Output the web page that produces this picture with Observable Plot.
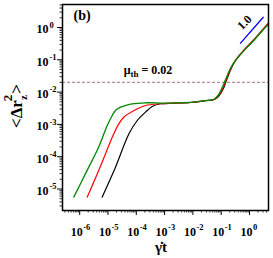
<!DOCTYPE html>
<html>
<head>
<meta charset="utf-8">
<script src="https://cdn.jsdelivr.net/npm/d3@7"></script>
<script src="https://cdn.jsdelivr.net/npm/@observablehq/plot@0.6"></script>
<style>
  body { margin: 0; background: #fff; }
</style>
</head>
<body>
<div id="chart"></div>
<script>
// ---- tick labels ----
const xMajor = [1e-6, 1e-5, 1e-4, 1e-3, 1e-2, 1e-1, 1];
const xExp = ["-6", "-5", "-4", "-3", "-2", "-1", "0"];
const yMajor = [1e-5, 1e-4, 1e-3, 1e-2, 1e-1, 1];
const yExp = ["-5", "-4", "-3", "-2", "-1", "0"];

// ---- series (γ̇t, <Δr_z^2>) ----
const tBlack = [6.2e-6, 1.84e-5, 5.5e-5, 1.08e-4, 2.11e-4, 3.65e-4, 7.2e-4, 2.06e-3, 8.2e-3, 3.2e-2, 5.35e-2, 8.0e-2, 0.116, 0.15, 0.22, 0.32, 0.63, 1.38, 3.2, 4.69];
const msdBlack = [5.6e-6, 4.73e-5, 5.1e-4, 1.32e-3, 2.39e-3, 3.58e-3, 4.35e-3, 4.53e-3, 4.76e-3, 5.5e-3, 5.8e-3, 7.3e-3, 1.22e-2, 2.2e-2, 5.1e-2, 9.5e-2, 0.194, 0.396, 0.91, 1.30];

const tRed = [1.84e-6, 4.7e-6, 1.6e-5, 2.41e-5, 3.61e-5, 9.4e-5, 2.11e-4, 7.2e-4, 2.06e-3, 8.2e-3, 3.2e-2, 5.35e-2, 8.0e-2, 0.11, 0.145, 0.215, 0.32, 0.63, 1.38, 3.2, 4.69];
const msdRed = [5.6e-6, 3.74e-5, 5.1e-4, 1.04e-3, 1.67e-3, 2.83e-3, 3.85e-3, 4.35e-3, 4.53e-3, 4.76e-3, 5.5e-3, 5.8e-3, 7.6e-3, 1.24e-2, 2.25e-2, 5.2e-2, 9.6e-2, 0.2, 0.41, 0.95, 1.38];

const tGreen = [6.2e-7, 1.6e-6, 4.7e-6, 9.4e-6, 1.41e-5, 1.84e-5, 2.77e-5, 4.15e-5, 7.16e-5, 2.11e-4, 1e-3, 8.2e-3, 3.2e-2, 5.35e-2, 7.8e-2, 0.105, 0.14, 0.21, 0.32, 0.63, 1.38, 3.2, 4.69];
const msdGreen = [5.6e-6, 3.0e-5, 2.0e-4, 9.2e-4, 1.89e-3, 2.69e-3, 3.41e-3, 3.85e-3, 4.34e-3, 4.67e-3, 4.55e-3, 4.8e-3, 5.5e-3, 5.9e-3, 8.0e-3, 1.3e-2, 2.35e-2, 5.4e-2, 9.5e-2, 0.19, 0.39, 0.9, 1.28];

// slope-1 guide line
const tSlope = [0.481, 3.05];
const msdSlope = [0.327, 2.08];

// threshold
const muTh = 0.02;

const xDomain = [2.47e-7, 4.69];
const yDomain = [2.16e-6, 5.15];

function minorTicks(lo, hi) {
  const out = [];
  for (let e = Math.floor(Math.log10(lo)); e <= Math.ceil(Math.log10(hi)); e++) {
    for (let k = 2; k <= 9; k++) {
      const v = k * Math.pow(10, e);
      if (v >= lo && v <= hi) out.push(v);
    }
  }
  return out;
}

const toRows = (ts, ms) => ts.map((t, i) => ({t, m: ms[i]}));
const black = toRows(tBlack, msdBlack);
const red = toRows(tRed, msdRed);
const green = toRows(tGreen, msdGreen);
const slope = toRows(tSlope, msdSlope);

const font = "'Liberation Serif', 'Times New Roman', serif";

const plot = Plot.plot({
  width: 273,
  height: 258,
  marginLeft: 62,
  marginRight: 5,
  marginTop: 4,
  marginBottom: 48,
  style: {fontFamily: font, background: "#fff", overflow: "visible"},
  x: {type: "log", domain: xDomain},
  y: {type: "log", domain: yDomain},
  marks: [
    Plot.axisX({ticks: xMajor, tickSize: 5, tickFormat: () => "", label: null, strokeWidth: 1}),
    Plot.axisX({ticks: minorTicks(...xDomain), tickSize: 2.5, tickFormat: () => "", label: null, strokeWidth: 0.8}),
    Plot.axisY({ticks: yMajor, tickSize: 5, tickFormat: () => "", label: null, strokeWidth: 1}),
    Plot.axisY({ticks: minorTicks(...yDomain), tickSize: 2.5, tickFormat: () => "", label: null, strokeWidth: 0.8}),
    Plot.text(xMajor, {x: d => d, frameAnchor: "bottom", text: () => "10", textAnchor: "end", lineAnchor: "middle", dx: 3, dy: 22, fontSize: 12, fontWeight: "bold", fill: "black"}),
    Plot.text(xMajor, {x: d => d, frameAnchor: "bottom", text: (d, i) => xExp[i], textAnchor: "start", lineAnchor: "middle", dx: 3.5, dy: 16.5, fontSize: 8.5, fontWeight: "bold", fill: "black"}),
    Plot.text(yMajor, {y: d => d, frameAnchor: "left", text: () => "10", textAnchor: "end", lineAnchor: "middle", dx: -14, dy: 2, fontSize: 12, fontWeight: "bold", fill: "black"}),
    Plot.text(yMajor, {y: d => d, frameAnchor: "left", text: (d, i) => yExp[i], textAnchor: "start", lineAnchor: "middle", dx: -13, dy: -2.5, fontSize: 8.5, fontWeight: "bold", fill: "black"}),
    Plot.ruleY([muTh], {stroke: "#b48a9c", strokeWidth: 1.2, strokeDasharray: "3,2"}),
    Plot.line(black, {x: "t", y: "m", stroke: "#000000", strokeWidth: 1.2, curve: "catmull-rom"}),
    Plot.line(red, {x: "t", y: "m", stroke: "#ff0000", strokeWidth: 1.2, curve: "catmull-rom"}),
    Plot.line(green, {x: "t", y: "m", stroke: "#008a00", strokeWidth: 1.3, curve: "catmull-rom"}),
    Plot.line(slope, {x: "t", y: "m", stroke: "#0000ff", strokeWidth: 1.3}),
    Plot.text(["1.0"], {x: [0.666], y: [1.43], text: d => d, rotate: -45, fontSize: 12, fontWeight: "bold", fill: "black"}),
    Plot.text(["(b)"], {frameAnchor: "top-left", text: d => d, dx: 11, dy: 11, fontSize: 14, fontWeight: "bold", fill: "black", textAnchor: "start", lineAnchor: "middle"}),
    Plot.frame({stroke: "black", strokeWidth: 1.5})
  ]
});

document.getElementById("chart").appendChild(plot);

const svg = d3.select(plot);
const sx = plot.scale("x"), sy = plot.scale("y");

// μ_th label
const mu = svg.append("text")
  .attr("x", sx.apply(2.7e-4))
  .attr("y", sy.apply(0.0467))
  .attr("dy", "0.35em")
  .attr("font-family", font)
  .attr("font-weight", "bold")
  .attr("font-size", 12)
  .attr("fill", "black");
mu.append("tspan").text("μ");
mu.append("tspan").attr("dy", 3).attr("font-size", 9).text("th");
mu.append("tspan").attr("dy", -3).text(" = 0.02");

// y-axis title
const yl = svg.append("text")
  .attr("transform", "translate(22,106) rotate(-90)")
  .attr("text-anchor", "middle")
  .attr("font-family", font)
  .attr("font-weight", "bold")
  .attr("font-size", 17)
  .attr("fill", "black");
yl.append("tspan").text("<Δr");
yl.append("tspan").attr("dy", 5).attr("font-size", 11).text("z");
yl.append("tspan").attr("dx", -6).attr("dy", -15).attr("font-size", 13).text("2");
yl.append("tspan").attr("dx", 1).attr("dy", 10).text(">");

// x-axis title
svg.append("text")
  .attr("x", 161)
  .attr("y", 252)
  .attr("text-anchor", "middle")
  .attr("font-family", font)
  .attr("font-weight", "bold")
  .attr("font-size", 15)
  .attr("fill", "black")
  .text("γ\u0307t");
</script>
</body>
</html>
